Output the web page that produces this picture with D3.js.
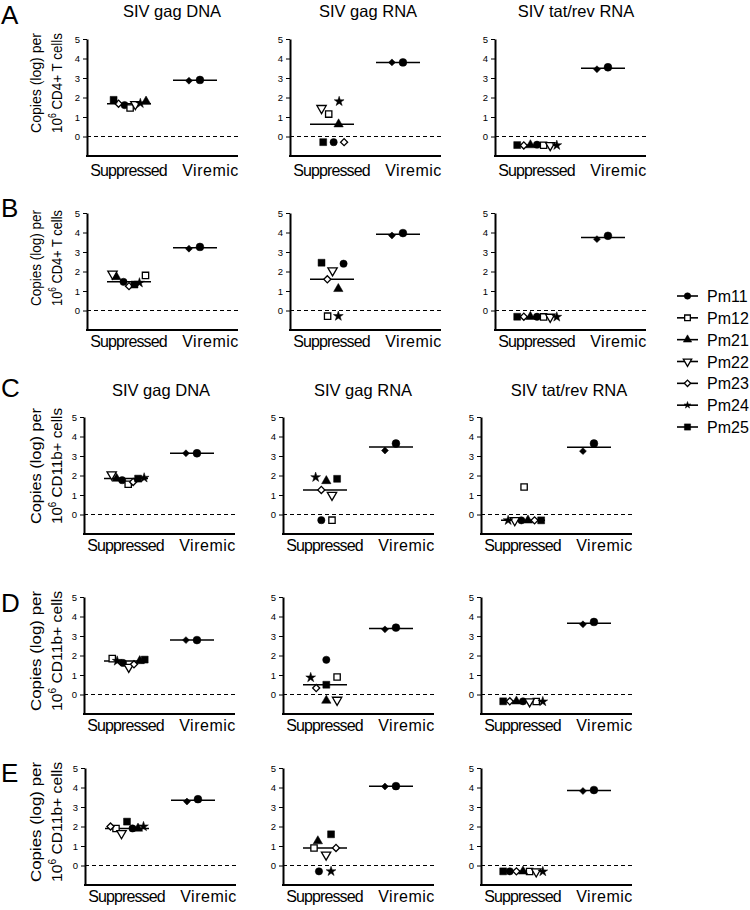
<!DOCTYPE html>
<html><head><meta charset="utf-8">
<script src="https://cdn.jsdelivr.net/npm/d3@7"></script>
<style>body{margin:0;background:#fff}svg{display:block;font-family:"Liberation Sans",Arial,sans-serif}</style>
</head><body><svg id="c" width="750" height="910"></svg>
<script>
const animals = ["Pm11","Pm12","Pm21","Pm22","Pm23","Pm24","Pm25"];
const groups = ["Suppressed","Viremic"];
const assays = ["SIV gag DNA","SIV gag RNA","SIV tat/rev RNA"];
const rowLetters = ["A","B","C","D","E"];
const cellTypes = ["CD4+ T cells","CD4+ T cells","CD11b+ cells","CD11b+ cells","CD11b+ cells"];
const yTicks = [0,1,2,3,4,5];
const titledRows = [0,2];

// Suppressed values (log copies) per assay, in order of animals
const suppA = [[1.61,1.46,1.80,1.65,1.68,1.70,1.88],[-0.29,1.15,0.63,1.45,-0.29,1.80,-0.29],[-0.42,-0.45,-0.44,-0.45,-0.46,-0.45,-0.44]];
const suppB = [[1.47,1.80,1.72,1.88,1.25,1.42,1.33],[2.40,-0.29,1.11,2.05,1.60,-0.29,2.45],[-0.32,-0.33,-0.32,-0.33,-0.32,-0.33,-0.32]];
const suppC = [[1.76,1.55,1.84,2.05,1.67,1.88,1.84],[-0.29,-0.29,1.72,1.00,1.26,1.91,1.83],[-0.30,1.41,-0.30,-0.30,-0.30,-0.30,-0.30]];
const suppD = [[1.62,1.84,1.72,1.41,1.55,1.72,1.79],[1.78,0.90,-0.31,-0.28,0.33,0.87,0.50],[-0.35,-0.36,-0.35,-0.36,-0.35,-0.36,-0.35]];
const suppE = [[1.90,1.90,1.90,1.65,2.00,2.00,2.25],[-0.30,0.90,1.25,0.55,0.90,-0.30,1.60],[-0.30,-0.31,-0.30,-0.31,-0.30,-0.31,-0.30]];
// horizontal jitter (slots) of suppressed points, same order
const jitA = [[-0.8,0.2,3.1,1.15,-1.9,2.06,-2.8],[0.3,-0.6,1.2,-1.9,2.2,1.3,-1.6],[0,1.2,-1.2,2.4,-2.4,3.6,-3.6]];
const jitB = [[-1.0,3.0,-2.3,-3.0,0,1.9,1.0],[2.1,-0.8,1.15,0.1,-0.85,1.15,-1.9],[0,1.2,-1.2,2.4,-2.4,3.6,-3.6]];
const jitC = [[-0.7,0.4,-1.7,-2.6,1.3,3.3,2.2],[-0.67,1.27,0.24,1.27,-0.67,-1.7,2.2],[-0.3,0.2,0.9,-1.5,2.1,-2.7,3.3]];
const jitD = [[-0.55,-2.5,2.5,0.5,1.45,-1.6,3.4],[0.24,2.2,0.24,2.2,-1.6,-2.6,0.24],[0,2.4,-1.2,1.2,-2.4,3.6,-3.6]];
const jitE = [[1,-2,2,-1,-3,3,0],[-1.1,-2.0,-1.3,0.2,2.0,1.1,1.1],[-2.4,1.2,0,2.4,-1.2,3.6,-3.6]];
// Viremic values [diamond, circle] per assay
const virA = [[2.86,2.90],[3.80,3.80],[3.45,3.55]];
const virB = [[3.17,3.26],[3.85,3.97],[3.66,3.83]];
const virC = [[3.14,3.14],[3.28,3.64],[3.25,3.64]];
const virD = [[2.79,2.79],[3.34,3.43],[3.60,3.72]];
const virE = [[3.28,3.40],[4.05,4.07],[3.82,3.87]];
const virJit = [-1.1, 0.9];

const rows = [
  {supp: suppA, jit: jitA, vir: virA},
  {supp: suppB, jit: jitB, vir: virB},
  {supp: suppC, jit: jitC, vir: virC},
  {supp: suppD, jit: jitD, vir: virD},
  {supp: suppE, jit: jitE, vir: virE}
];

// layout
const rowTop = [39,213,417,597,768];
const colAxisX = [[87,290,495],[87,290,495],[84,283,481],[84,283,481],[85,283,481]];
const plotH = 117, plotW = 151;
const letterY = [24,217,397,612,782];
const yLabCenter = [83,258,466,651,822];
const yLabLen = [100,96,116,120,120];
const titleY = {0:17, 2:396};
const titleX = {0:[172,368,576], 2:[161,363,569]};
const labGap = [20,17,17,17,17];

const svg = d3.select("#c");

const markerStyle = {
  Pm11:{type:d3.symbolCircle,size:42,fill:"#000",rot:0},
  Pm12:{type:d3.symbolSquare,size:40,fill:"#fff",rot:0},
  Pm21:{type:d3.symbolTriangle,size:38,fill:"#000",rot:0},
  Pm22:{type:d3.symbolTriangle,size:38,fill:"#fff",rot:180},
  Pm23:{type:d3.symbolSquare,size:25,fill:"#fff",rot:45},
  Pm24:{type:d3.symbolStar,size:30,fill:"#000",rot:0},
  Pm25:{type:d3.symbolSquare,size:48,fill:"#000",rot:0}
};
const virStyle = [{type:d3.symbolSquare,size:24,fill:"#000",rot:45},{type:d3.symbolCircle,size:48,fill:"#000",rot:0}];

function drawMarker(g, st, x, y, k) {
  k = k || 1;
  g.append("path")
    .attr("d", d3.symbol().type(st.type).size(st.size*k)())
    .attr("transform", `translate(${x},${y}) rotate(${st.rot})`)
    .attr("fill", st.fill)
    .attr("stroke", "#000")
    .attr("stroke-width", st.fill === "#fff" ? 1.3 : 0.5);
}

rows.forEach((r, ri) => {
  const top = rowTop[ri];
  const y = d3.scaleLinear().domain([-1,5]).range([top+plotH, top]);

  svg.append("text").attr("x",1).attr("y",letterY[ri]).attr("font-size",26).text(rowLetters[ri]);

  const cy = yLabCenter[ri];
  svg.append("text").attr("transform",`translate(41,${cy}) rotate(-90)`)
    .attr("text-anchor","middle").attr("font-size",15.5)
    .attr("textLength",yLabLen[ri]).attr("lengthAdjust","spacingAndGlyphs")
    .text("Copies (log) per");
  const t2 = svg.append("text").attr("transform",`translate(62,${cy}) rotate(-90)`)
    .attr("text-anchor","middle").attr("font-size",15.5)
    .attr("textLength",yLabLen[ri]).attr("lengthAdjust","spacingAndGlyphs");
  t2.append("tspan").text("10");
  t2.append("tspan").attr("font-size",10).attr("dy",-6).text("6");
  t2.append("tspan").attr("dy",6).text(" " + cellTypes[ri]);

  assays.forEach((a, ci) => {
    const ax = colAxisX[ri][ci];
    const g = svg.append("g");
    const xCat = d3.scalePoint().domain(groups).range([ax+42, ax+108]);
    const xJ = d3.scaleLinear().domain([0,1]).range([0,5.5]);

    if (titledRows.includes(ri)) {
      g.append("text").attr("x",titleX[ri][ci]).attr("y",titleY[ri])
        .attr("text-anchor","middle").attr("font-size",16.5).text(a);
    }

    // dashed zero line
    g.append("line").attr("x1",ax).attr("x2",ax+plotW).attr("y1",y(0)).attr("y2",y(0))
      .attr("stroke","#000").attr("stroke-width",1.1).attr("stroke-dasharray","4,3");

    // y axis
    const ga = g.append("g").attr("transform",`translate(${ax},0)`)
      .call(d3.axisLeft(y).tickValues(yTicks).tickSize(4).tickSizeOuter(0).tickPadding(3).tickFormat(d3.format("d")));
    ga.select(".domain").attr("stroke-width",2).attr("stroke","#000");
    ga.selectAll(".tick line").attr("stroke","#000").attr("stroke-width",1);
    ga.selectAll(".tick text").attr("font-size",9.5).attr("fill","#000").attr("font-family","Liberation Sans, Arial, sans-serif");

    // x axis with group labels
    const xLab = d3.scalePoint().domain(groups).range([ax+41, ax+123]);
    const gx = g.append("g").attr("transform",`translate(0,${y(-1)})`)
      .call(d3.axisBottom(xLab).tickSize(0).tickPadding(0));
    gx.select(".domain").remove();
    gx.selectAll(".tick text").attr("dy",null).attr("y",labGap[ri])
      .attr("font-size",16).attr("fill","#000").attr("font-family","Liberation Sans, Arial, sans-serif")
      .attr("letter-spacing", d => d === "Suppressed" ? -0.9 : 0.5);
    g.append("line").attr("x1",ax-1).attr("x2",ax+plotW).attr("y1",y(-1)).attr("y2",y(-1))
      .attr("stroke","#000").attr("stroke-width",2);

    // median lines
    const sv = r.supp[ci], vv = r.vir[ci];
    [[groups[0], d3.median(sv)], [groups[1], d3.median(vv)]].forEach(([gr, m]) => {
      g.append("line").attr("x1",xCat(gr)-22).attr("x2",xCat(gr)+22)
        .attr("y1",y(m)).attr("y2",y(m)).attr("stroke","#000").attr("stroke-width",1.5);
    });

    // suppressed points
    animals.forEach((an, k) => {
      drawMarker(g, markerStyle[an], xCat(groups[0]) + xJ(r.jit[ci][k]), y(sv[k]));
    });
    // viremic points
    vv.forEach((v, k) => {
      drawMarker(g, virStyle[k], xCat(groups[1]) + xJ(virJit[k]), y(v));
    });
  });
});

// legend
const ly = d3.scalePoint().domain(animals).range([296, 427]);
const lg = svg.append("g");
animals.forEach(an => {
  const yy = ly(an);
  lg.append("line").attr("x1",677).attr("x2",698).attr("y1",yy).attr("y2",yy).attr("stroke","#000").attr("stroke-width",1.6);
  drawMarker(lg, markerStyle[an], 687.5, yy, an === "Pm24" ? 0.5 : 0.8);
  lg.append("text").attr("x",707).attr("y",yy+6).attr("font-size",16).text(an);
});
</script></body></html>
